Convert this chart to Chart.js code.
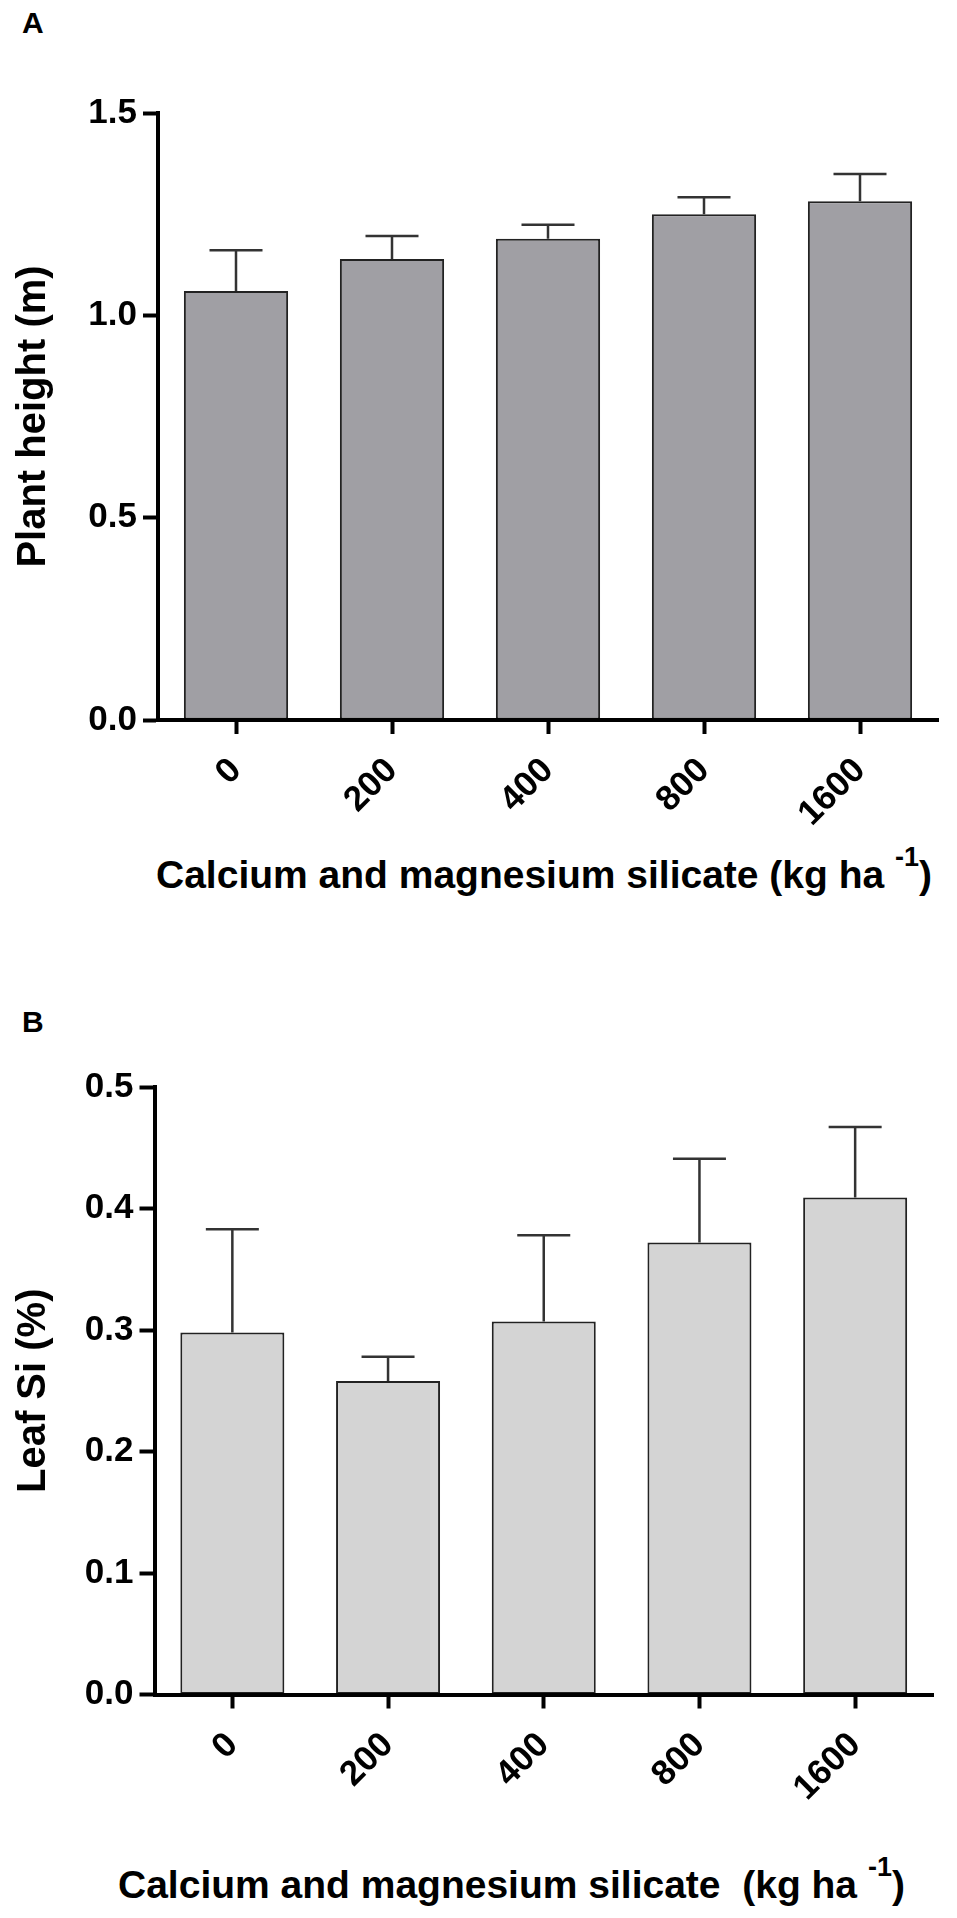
<!DOCTYPE html>
<html>
<head>
<meta charset="utf-8">
<script src="https://cdn.jsdelivr.net/npm/chart.js@4.4.1/dist/chart.umd.min.js"></script>
<style>
  html, body { margin: 0; padding: 0; background: #ffffff; }
  body { width: 957px; height: 1918px; position: relative; overflow: hidden;
         font-family: "Liberation Sans", Arial, sans-serif; font-weight: bold; color: #000; }
  canvas { position: absolute; left: 0; }
  .lbl { position: absolute; font-size: 30px; line-height: 30px; }
  .xt { position: absolute; font-size: 39px; line-height: 39px; white-space: pre; }
  .sup { font-size: 27px; position: relative; top: -22px; }
</style>
</head>
<body>
<div class="lbl" style="left:22px; top:8px;">A</div>
<canvas id="chartA" width="957" height="840" style="top:0px; width:957px; height:840px;"></canvas>
<div class="xt" style="left:156px; top:855px;">Calcium and magnesium silicate (kg ha <span class="sup">-1</span>)</div>

<div class="lbl" style="left:22px; top:1007px;">B</div>
<canvas id="chartB" width="957" height="900" style="top:900px; width:957px; height:900px;"></canvas>
<div class="xt" style="left:118px; top:1865px;">Calcium and magnesium silicate  (kg ha <span class="sup">-1</span>)</div>

<script>
// ---- data ----
const categories = ['0', '200', '400', '800', '1600'];
const plantHeight = [1.060, 1.139, 1.189, 1.250, 1.282];
const plantHeightErr = [0.101, 0.057, 0.035, 0.042, 0.067];
const leafSi = [0.298, 0.258, 0.307, 0.372, 0.409];
const leafSiErr = [0.085, 0.020, 0.071, 0.069, 0.058];
const yTicksA = [0, 0.5, 1.0, 1.5];
const yTicksB = [0, 0.1, 0.2, 0.3, 0.4, 0.5];

const FONT = '"Liberation Sans", Arial, sans-serif';

const errorBarPlugin = {
  id: 'errorBars',
  afterDatasetsDraw(chart) {
    const errs = chart.options.plugins.errorBars.errors;
    const yScale = chart.scales.y;
    const meta = chart.getDatasetMeta(0);
    const vals = chart.data.datasets[0].data;
    const ctx = chart.ctx;
    ctx.save();
    ctx.strokeStyle = '#333333';
    ctx.lineWidth = 2.5;
    ctx.lineCap = 'butt';
    meta.data.forEach((bar, i) => {
      const x = bar.x;
      const yBar = yScale.getPixelForValue(vals[i]);
      const yTop = yScale.getPixelForValue(vals[i] + errs[i]);
      ctx.beginPath();
      ctx.moveTo(x, yBar);
      ctx.lineTo(x, yTop);
      ctx.moveTo(x - 26.5, yTop);
      ctx.lineTo(x + 26.5, yTop);
      ctx.stroke();
    });
    ctx.restore();
  }
};

function makeChart(id, values, errs, fill, yMax, ticks, yTitle, pad, yWidth, xHeight) {
  return new Chart(document.getElementById(id), {
    type: 'bar',
    data: {
      labels: categories,
      datasets: [{
        data: values,
        backgroundColor: fill,
        borderColor: '#222222',
        borderWidth: 2,
        borderSkipped: false,
        categoryPercentage: 1.0,
        barPercentage: 0.668
      }]
    },
    plugins: [errorBarPlugin],
    options: {
      responsive: false,
      animation: false,
      devicePixelRatio: 1,
      layout: { padding: pad },
      plugins: {
        legend: { display: false },
        tooltip: { enabled: false },
        errorBars: { errors: errs }
      },
      scales: {
        x: {
          type: 'category',
          offset: true,
          grid: { display: true, drawOnChartArea: false, drawTicks: true, offset: false,
                  tickLength: 14, tickWidth: 4, tickColor: '#000' },
          border: { display: true, color: '#000', width: 4, z: 1 },
          ticks: {
            color: '#000', padding: 16, minRotation: 45, maxRotation: 45,
            font: { family: FONT, size: 35, weight: 'bold', lineHeight: 1.2 }
          },
          afterFit(scale) { scale.height = xHeight; }
        },
        y: {
          min: 0,
          max: yMax,
          afterBuildTicks(scale) { scale.ticks = ticks.map(v => ({ value: v })); },
          grid: { display: true, drawOnChartArea: false, drawTicks: true,
                  tickLength: 15, tickWidth: 4, tickColor: '#000' },
          border: { display: true, color: '#000', width: 4, z: 1 },
          ticks: {
            color: '#000', padding: 6,
            font: { family: FONT, size: 35, weight: 'bold' },
            callback: (v) => Number(v).toFixed(1)
          },
          title: {
            display: true, text: yTitle, color: '#000',
            font: { family: FONT, size: 40, weight: 'bold', lineHeight: 1.2 },
            padding: { top: 10, bottom: 0 }
          },
          afterFit(scale) { scale.width = yWidth; }
        }
      }
    }
  });
}

makeChart('chartA', plantHeight, plantHeightErr, '#a09fa4', 1.5, yTicksA, 'Plant height (m)',
          { top: 113, right: 19, left: 0, bottom: 0 }, 158, 120);
makeChart('chartB', leafSi, leafSiErr, '#d4d4d4', 0.5, yTicksB, 'Leaf Si (%)',
          { top: 187, right: 24, left: 0, bottom: 0 }, 154.5, 105.5);
</script>
</body>
</html>
